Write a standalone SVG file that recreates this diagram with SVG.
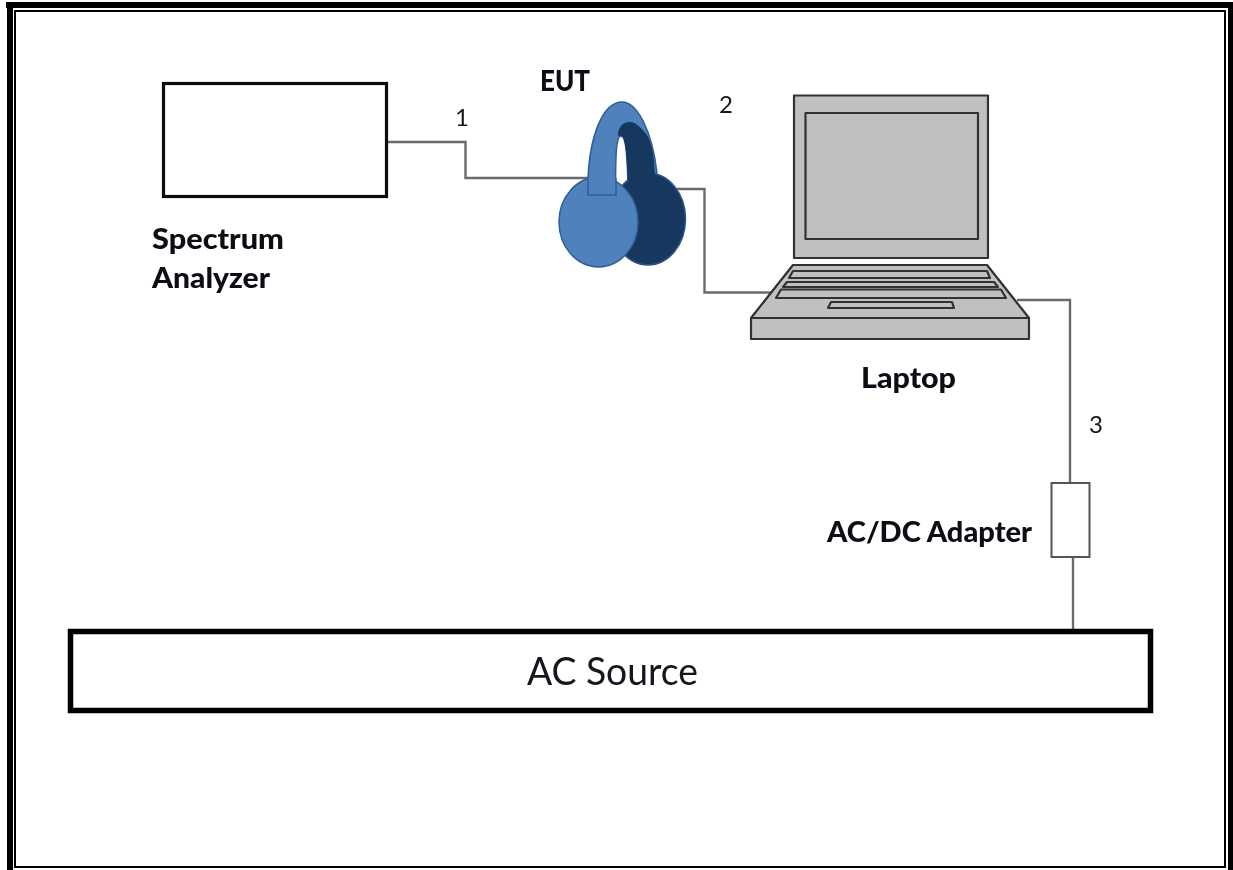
<svg xmlns="http://www.w3.org/2000/svg" width="1233" height="870" viewBox="0 0 1233 870">
<defs><filter id="b" x="-5%" y="-5%" width="110%" height="110%"><feGaussianBlur stdDeviation="0.6"/></filter></defs>
<style>
.lb{font-family:Lato,"Liberation Sans",sans-serif;font-weight:900;font-size:28px;fill:#0b0b12}
.n{font-family:Lato,"Liberation Sans",sans-serif;font-size:24px;fill:#14141c}
.w{fill:none;stroke:#6a6a6a;stroke-width:2.400}
.lp{fill:#c0c0c0;stroke:#303030;stroke-width:2.200;stroke-linejoin:round}
.soft{filter:url(#b)}
</style>
<rect width="1233" height="870" fill="#fff"/>
<g id="frame" fill="#000">
<rect x="6" y="2" width="1227" height="6"/>
<rect x="7" y="2" width="6" height="868"/>
<rect x="1228" y="2" width="5" height="868"/>
<rect x="14" y="10" width="1212" height="2"/>
<rect x="14" y="10" width="2" height="858"/>
<rect x="1224" y="10" width="2" height="858"/>
<rect x="14" y="866" width="1212" height="2"/>
</g>
<g id="connectors" class="soft">
<path class="w" d="M388 142H465.500V178H588"/>
<path class="w" d="M673 189H704.500V292.500H776"/>
<path class="w" d="M1017 300H1070V483"/>
<path class="w" d="M1073 557V630"/>
</g>
<g id="spectrum-analyzer" class="soft">
<rect x="163.500" y="83.500" width="223" height="113" fill="#fff" stroke="#111" stroke-width="3.200"/>
<text class="lb" x="152" y="249" textLength="132" lengthAdjust="spacingAndGlyphs">Spectrum</text>
<text class="lb" x="152" y="288" textLength="118" lengthAdjust="spacingAndGlyphs">Analyzer</text>
</g>
<g id="eut" class="soft">
<text class="lb" x="540" y="91" textLength="50" lengthAdjust="spacingAndGlyphs">EUT</text>
<ellipse cx="648" cy="219" rx="37.500" ry="46" fill="#17375e" stroke="#2a5286" stroke-width="1.500"/>
<path d="M588 195V178C590 135 603 102 622 102C637 102 652 130 657 173L628 182C627 155 626 136 621 136C616 136 615.500 155 615.500 195Z" fill="#4f81bd" stroke="#2f5f96" stroke-width="1.500"/>
<path d="M618 134C619 126 623 122 630 122C636 122 644 130 648 137C652 145 654 155 655 175L640 185H628C627 160 626 136 621 136C619 136 618 136 618 134Z" fill="#17375e"/>
<ellipse cx="598.500" cy="222" rx="39.500" ry="45" fill="#4f81bd" stroke="#2f5f96" stroke-width="1.500"/>
<path d="M588 178V195H616V178" fill="#4f81bd" stroke="#2f5f96" stroke-width="1.500"/>
<rect x="589" y="175" width="26" height="19" fill="#4f81bd"/>
</g>
<g id="laptop" class="soft">
<rect class="lp" x="794" y="95.500" width="194" height="162.500"/>
<rect class="lp" x="805.500" y="113" width="172.500" height="126"/>
<path class="lp" d="M793 265H987L1029 318H751Z"/>
<rect class="lp" x="751" y="318" width="278" height="21"/>
<path class="lp" d="M793 271H987L990 278H789Z"/>
<path class="lp" d="M787 282H994L998 287H783Z"/>
<path class="lp" d="M781 289.500H1001L1006 298H776Z"/>
<path class="lp" d="M831 302H952L954 308H828Z"/>
<text class="lb" x="861" y="388" textLength="95" lengthAdjust="spacingAndGlyphs">Laptop</text>
</g>
<g id="ac-dc-adapter" class="soft">
<rect x="1051.500" y="483" width="38" height="74" fill="#fff" stroke="#555" stroke-width="2"/>
<text class="lb" x="827" y="542" textLength="205" lengthAdjust="spacingAndGlyphs">AC/DC Adapter</text>
</g>
<g id="ac-source" class="soft">
<rect x="70.500" y="631.500" width="1080" height="79" fill="#fff" stroke="#000" stroke-width="5.500"/>
<text x="527" y="685" textLength="171" lengthAdjust="spacingAndGlyphs" style="font-family:Lato,'Liberation Sans',sans-serif;font-size:38px;fill:#14141c">AC Source</text>
</g>
<g id="labels" class="soft">
<text class="n" x="455" y="126">1</text>
<text class="n" x="719" y="113">2</text>
<text class="n" x="1089" y="433">3</text>
</g>
</svg>
